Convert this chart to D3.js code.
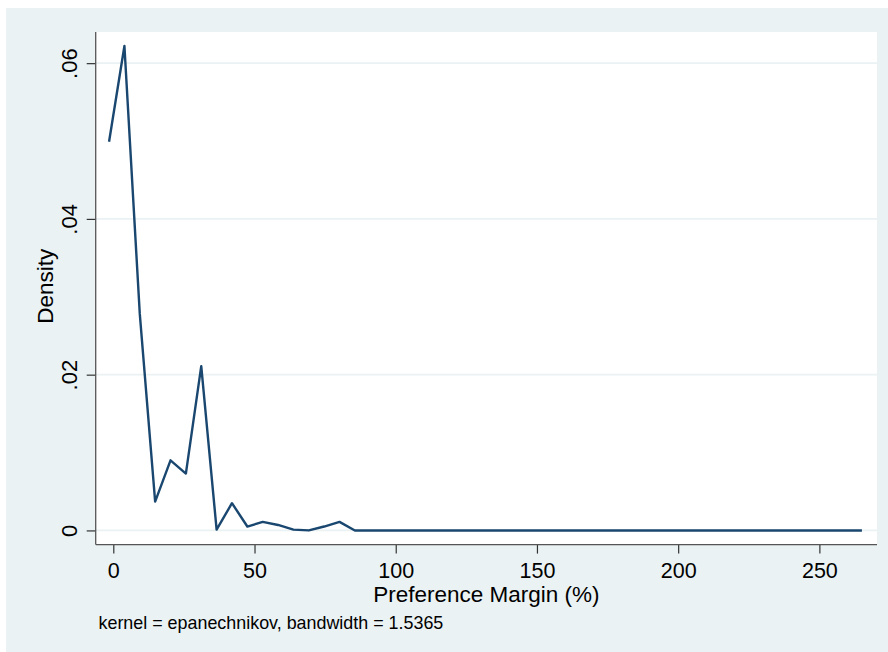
<!DOCTYPE html>
<html>
<head>
    <meta charset="utf-8">
    <style>
        body { margin: 0; background: #fff; }
        svg text { font-family: "Liberation Sans", Arial, sans-serif; fill: #000; }
    </style>
</head>
<body>

<div id="my_dataviz"></div>

<script src="https://d3js.org/d3.v7.min.js"></script>
<script>
// kernel density estimate
var xValues = [-1.5, 3.94, 9.38, 14.82, 20.26, 25.70, 31.14, 36.58, 42.02, 47.46,
               52.90, 58.34, 63.78, 69.22, 74.66, 80.10, 85.54, 90.98, 96.42, 101.86,
               107.30, 112.74, 118.18, 123.62, 129.06, 134.50, 139.94, 145.38, 150.82, 156.26,
               161.70, 167.14, 172.58, 178.02, 183.46, 188.90, 194.34, 199.78, 205.22, 210.66,
               216.10, 221.54, 226.98, 232.42, 237.86, 243.30, 248.74, 254.18, 259.62, 265.06];
var densityValues = [0.0499, 0.0622, 0.0278, 0.0037, 0.0090, 0.0073, 0.0211, 0.0001, 0.0035, 0.0005,
                     0.0011, 0.0007, 0.0001, 0.0000, 0.0005, 0.0011, 0.0000, 0.0000, 0.0000, 0.0000,
                     0.0000, 0.0000, 0.0000, 0.0000, 0.0000, 0.0000, 0.0000, 0.0000, 0.0000, 0.0000,
                     0.0000, 0.0000, 0.0000, 0.0000, 0.0000, 0.0000, 0.0000, 0.0000, 0.0000, 0.0000,
                     0.0000, 0.0000, 0.0000, 0.0000, 0.0000, 0.0000, 0.0000, 0.0000, 0.0000, 0.0000];

var xTicks = [0, 50, 100, 150, 200, 250];
var yTicks = [0, 0.02, 0.04, 0.06];
var yTickLabels = ["0", ".02", ".04", ".06"];

var xTitle = "Preference Margin (%)";
var yTitle = "Density";
var note = "kernel = epanechnikov, bandwidth = 1.5365";

// page + plot region
var W = 888, H = 652;
var plot = {left: 95.7, top: 32, right: 877, bottom: 544.6};

var svg = d3.select("#my_dataviz")
  .append("svg")
    .attr("width", W)
    .attr("height", H);

// outer graph region (Stata s2color)
svg.append("rect")
    .attr("x", 6).attr("y", 8)
    .attr("width", W - 6).attr("height", H - 8)
    .attr("fill", "#eaf2f3");

svg.append("rect")
    .attr("x", plot.left).attr("y", plot.top)
    .attr("width", plot.right - plot.left)
    .attr("height", plot.bottom - plot.top)
    .attr("fill", "#fff");

// scales
var x = d3.scaleLinear()
    .domain([-6.23, 270.4])
    .range([plot.left, plot.right]);
var y = d3.scaleLinear()
    .domain([-0.00182, 0.0640])
    .range([plot.bottom, plot.top]);

// grid lines
svg.append("g")
  .selectAll("line")
  .data(yTicks)
  .enter()
  .append("line")
    .attr("x1", plot.left)
    .attr("x2", plot.right)
    .attr("y1", function(d) { return y(d); })
    .attr("y2", function(d) { return y(d); })
    .attr("stroke", "#eaf2f3")
    .attr("stroke-width", 1.8);

// X axis
var xAxis = svg.append("g")
    .attr("transform", "translate(0," + plot.bottom + ")")
    .call(d3.axisBottom(x).tickValues(xTicks).tickSize(9).tickSizeOuter(0)
      .tickFormat(function(d) { return String(d); }));
xAxis.select(".domain").remove();
xAxis.selectAll(".tick line").attr("stroke", "#333").attr("stroke-width", 1.2);
xAxis.selectAll(".tick text")
    .attr("y", 33.6)
    .attr("dy", 0)
    .attr("fill", "#000")
    .style("font-size", "21.5px");

// Y axis
var yAxis = svg.append("g")
    .attr("transform", "translate(" + plot.left + ",0)")
    .call(d3.axisLeft(y).tickValues(yTicks).tickSize(9).tickSizeOuter(0)
      .tickFormat(function(d, i) { return yTickLabels[i]; }));
yAxis.select(".domain").remove();
yAxis.selectAll(".tick line").attr("stroke", "#333").attr("stroke-width", 1.2);
yAxis.selectAll(".tick text")
    .attr("transform", "rotate(-90)")
    .attr("x", 0)
    .attr("y", -18.7)
    .attr("dy", 0)
    .attr("text-anchor", "middle")
    .attr("fill", "#000")
    .style("font-size", "22px");

// axis lines
svg.append("line")
    .attr("x1", plot.left).attr("x2", plot.left)
    .attr("y1", plot.top).attr("y2", plot.bottom)
    .attr("stroke", "#555").attr("stroke-width", 1.3);
svg.append("line")
    .attr("x1", plot.left).attr("x2", plot.right)
    .attr("y1", plot.bottom).attr("y2", plot.bottom)
    .attr("stroke", "#555").attr("stroke-width", 1.3);

// density line
var line = d3.line()
    .x(function(d, i) { return x(xValues[i]); })
    .y(function(d) { return y(d); });
svg.append("path")
    .datum(densityValues)
    .attr("d", line)
    .attr("fill", "none")
    .attr("stroke", "#1a476f")
    .attr("stroke-width", 2.4)
    .attr("stroke-linejoin", "round");

// titles
svg.append("text")
    .attr("x", (plot.left + plot.right) / 2)
    .attr("y", 601.5)
    .attr("text-anchor", "middle")
    .style("font-size", "22.5px")
    .text(xTitle);

svg.append("text")
    .attr("transform", "translate(53," + ((plot.top + plot.bottom) / 2 - 2) + ") rotate(-90)")
    .attr("text-anchor", "middle")
    .style("font-size", "22.5px")
    .text(yTitle);

svg.append("text")
    .attr("x", 98.5)
    .attr("y", 629)
    .style("font-size", "17.9px")
    .text(note);
</script>
</body>
</html>
